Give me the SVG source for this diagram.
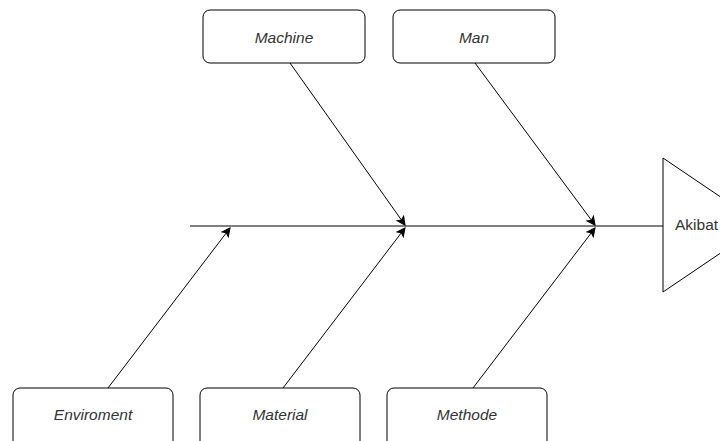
<svg xmlns="http://www.w3.org/2000/svg" width="720" height="441" viewBox="0 0 720 441">
<style>
.box{fill:#fff;stroke:#000;stroke-width:1}
.lbl{font-family:"Liberation Sans",Arial,sans-serif;font-size:15.5px;font-style:italic;fill:#333;text-anchor:middle;dominant-baseline:central}
.ln{stroke:#000;stroke-width:1;fill:none}
</style>
<defs>
<marker id="ah" markerWidth="10" markerHeight="10" refX="9" refY="5" orient="auto" markerUnits="userSpaceOnUse">
<path d="M1,1 L9,5 L1,9 L3,5 Z" fill="#000" stroke="#000"/>
</marker>
</defs>
<g id="connectors">
<line class="ln" x1="190" y1="226" x2="663" y2="226"/>
<line class="ln" x1="290" y1="63" x2="405" y2="225" marker-end="url(#ah)"/>
<line class="ln" x1="475" y1="63" x2="595" y2="225" marker-end="url(#ah)"/>
<line class="ln" x1="108" y1="388" x2="230" y2="228" marker-end="url(#ah)"/>
<line class="ln" x1="283" y1="388" x2="405" y2="228" marker-end="url(#ah)"/>
<line class="ln" x1="473" y1="388" x2="595" y2="228" marker-end="url(#ah)"/>
</g>
<g id="machine"><rect class="box" x="203" y="10" width="162" height="53" rx="7"/><text class="lbl" x="284" y="37">Machine</text></g>
<g id="man"><rect class="box" x="393" y="10" width="162" height="53" rx="7"/><text class="lbl" x="474" y="37">Man</text></g>
<g id="enviroment"><rect class="box" x="13" y="388" width="160" height="60" rx="7"/><text class="lbl" x="93" y="414">Enviroment</text></g>
<g id="material"><rect class="box" x="200" y="388" width="160" height="60" rx="7"/><text class="lbl" x="280" y="414">Material</text></g>
<g id="methode"><rect class="box" x="387" y="388" width="160" height="60" rx="7"/><text class="lbl" x="467" y="414">Methode</text></g>
<g id="akibat"><path class="box" d="M663,158 L663,292 L762,225 Z"/><text x="675" y="224" font-family="'Liberation Sans',Arial,sans-serif" font-size="15.5" fill="#333" dominant-baseline="central">Akibat</text></g>
</svg>
